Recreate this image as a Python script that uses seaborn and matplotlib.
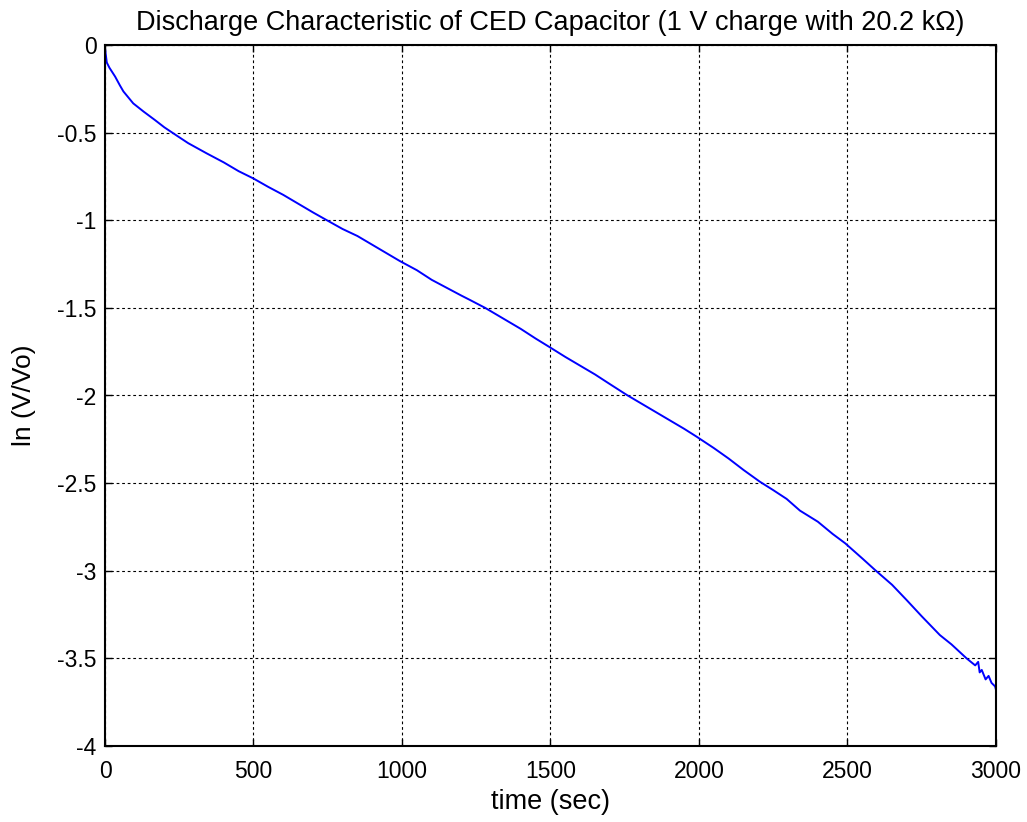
import matplotlib
matplotlib.use("Agg")
import matplotlib.pyplot as plt
import seaborn as sns
import pandas as pd

# Discharge record: elapsed time (s) and ln(V/Vo)
time_s = [0, 3, 6, 15, 34, 50, 62, 95, 130, 168, 200, 230, 280, 342, 400, 450,
          499, 550, 600, 650, 700, 746, 800, 850, 900, 950, 993, 1050, 1100,
          1150, 1200, 1229, 1280, 1350, 1400, 1450, 1498, 1550, 1600, 1650,
          1700, 1757, 1800, 1850, 1900, 1950, 1992, 2050, 2100, 2150, 2205,
          2250, 2295, 2340, 2400, 2450, 2492, 2550, 2593, 2650, 2699, 2750,
          2811, 2850, 2901, 2930, 2940, 2945, 2952, 2965, 2975, 2985, 2997, 3000]
ln_ratio = [-0.02, -0.06, -0.10, -0.13, -0.18, -0.23, -0.265, -0.333, -0.38,
            -0.428, -0.47, -0.504, -0.56, -0.618, -0.67, -0.72, -0.761, -0.81,
            -0.855, -0.905, -0.955, -0.999, -1.05, -1.09, -1.14, -1.19, -1.233,
            -1.285, -1.34, -1.385, -1.43, -1.455, -1.50, -1.57, -1.62, -1.675,
            -1.725, -1.78, -1.83, -1.88, -1.935, -1.997, -2.04, -2.09, -2.14,
            -2.19, -2.235, -2.30, -2.36, -2.425, -2.492, -2.54, -2.59, -2.657,
            -2.72, -2.79, -2.843, -2.93, -2.996, -3.08, -3.167, -3.26, -3.367,
            -3.42, -3.50, -3.54, -3.52, -3.58, -3.566, -3.62, -3.60, -3.64,
            -3.66, -3.68]

x_ticks = [0, 500, 1000, 1500, 2000, 2500, 3000]
y_ticks = [0, -0.5, -1, -1.5, -2, -2.5, -3, -3.5, -4]
y_tick_labels = ["0", "-0.5", "-1", "-1.5", "-2", "-2.5", "-3", "-3.5", "-4"]

sns.set_theme(style="white")
plt.rcParams["font.family"] = ["Liberation Sans", "DejaVu Sans"]
plt.rcParams["xtick.direction"] = "in"
plt.rcParams["ytick.direction"] = "in"

df = pd.DataFrame({"time": time_s, "lnv": ln_ratio})

fig = plt.figure(figsize=(10.27, 8.22), dpi=100)
ax = fig.add_axes([105 / 1027, 76 / 822, 891 / 1027, 701 / 822])

sns.lineplot(data=df, x="time", y="lnv", color="#0000ff", linewidth=1.4,
             ax=ax, estimator=None, sort=False)

ax.set_xlim(0, 3000)
ax.set_ylim(-4, 0)
ax.set_xticks(x_ticks)
ax.set_xticklabels([str(v) for v in x_ticks])
ax.set_yticks(y_ticks)
ax.set_yticklabels(y_tick_labels)
ax.tick_params(axis="both", labelsize=16.5, colors="black", length=5, width=1,
               top=True, right=True, bottom=True, left=True, pad=6)
ax.tick_params(axis="x", pad=10)

ax.grid(True, color="black", linestyle=(0, (2.5, 2.5)), linewidth=0.8)
for sp in ax.spines.values():
    sp.set_color("black")
    sp.set_linewidth(1.5)
    sp.set_visible(True)

ax.set_xlabel("time (sec)", fontsize=19.5, color="black")
ax.set_ylabel("ln (V/Vo)", fontsize=19, color="black")
ax.xaxis.set_label_coords(0.5, -0.062)
ax.yaxis.set_label_coords(-0.077, 0.5)
ax.set_title("Discharge Characteristic of CED Capacitor (1 V charge with 20.2 k\u03a9)",
             fontsize=19.5, color="black", pad=10.5)

fig.savefig("out.png", dpi=100, facecolor="white")
